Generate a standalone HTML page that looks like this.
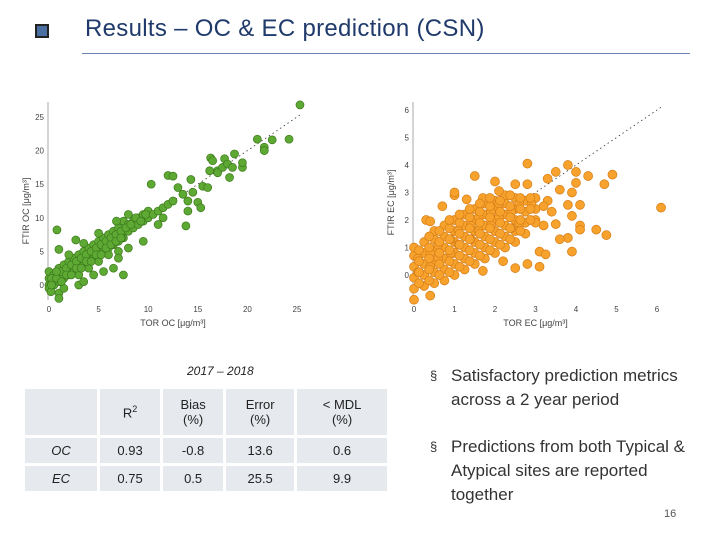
<!DOCTYPE html>
<html><head><meta charset="utf-8"><style>
body{margin:0;width:720px;height:540px;background:#fff;position:relative;overflow:hidden;font-family:"Liberation Sans",sans-serif}
.abs{position:absolute}
table{border-collapse:collapse;position:absolute;left:22px;top:386px;width:368px;font-family:"Liberation Sans",sans-serif;font-size:13px;color:#222}
td{background:#e6e9ee;border:3px solid #fff;text-align:center;padding:0}
.bul{position:absolute;left:430px;font-size:17px;color:#333;line-height:24px;width:275px}
.bul span.m{position:absolute;left:0;font-size:13px}
.bul div{margin-left:21px}
</style></head><body>
<div class="abs" style="left:35px;top:24px;width:10px;height:10px;background:#4a6fa0;border:2px solid #222"></div>
<div class="abs" style="left:85px;top:15px;font-size:24px;color:#1f3a6b;letter-spacing:0.3px">Results – OC &amp; EC prediction (CSN)</div>
<div class="abs" style="left:82px;top:53px;width:608px;height:1px;background:#6a86b0"></div>

<svg class="abs" style="left:0;top:0" width="720" height="340">
<g id="oc"></g>
<g id="ec"></g>
</svg>

<div class="abs" style="left:187px;top:364px;font-size:12px;font-style:italic;color:#222">2017 – 2018</div>
<table>
<tr style="height:49px"><td style="width:72px"></td><td>R<sup style="font-size:9px">2</sup></td><td>Bias<br>(%)</td><td>Error<br>(%)</td><td>&lt; MDL<br>(%)</td></tr>
<tr style="height:28px"><td><i>OC</i></td><td>0.93</td><td>-0.8</td><td>13.6</td><td>0.6</td></tr>
<tr style="height:28px"><td><i>EC</i></td><td>0.75</td><td>0.5</td><td>25.5</td><td>9.9</td></tr>
</table>

<div class="bul" style="top:364px"><span class="m">§</span><div>Satisfactory prediction metrics across a 2 year period</div></div>
<div class="bul" style="top:435px"><span class="m">§</span><div>Predictions from both Typical &amp; Atypical sites are reported together</div></div>
<div class="abs" style="left:664px;top:508px;font-size:11px;color:#555">16</div>

<script>
const ocX=[0,0,0,0,0.3,0.5,0.5,1,1,1,1.5,1.5,1.5,2,2,2,2.5,2.5,2.5,3,3,3,3,3.5,3.5,3.5,4,4,4,4,4.5,4.5,4.5,5,5,5,5,5.5,5.5,5.5,6,6,6,6,6.5,6.5,6.5,7,7,7,7,7.5,7.5,7.5,8,8,8,8.5,8.5,9,9,9.5,9.5,10,10,10.5,11,11.5,12,12.5,12,12.5,10.3,13,13.5,14,14,13.8,14.3,14.5,15,15.3,15.5,16,16.2,16.3,16.5,17,17,17.5,17.7,18,18.2,18.5,18.7,19.5,19.5,21,21.7,21.7,22.5,24.2,25.3,0.8,1,1,1,2.7,7.5,5,6.5,3.5,2,4.5,9.5,7,1.5,0.2,5.5,3,8,11,11.5,6.8,3.5,0.7,1.3,2.3,3.3,4.3,5.3,6.3,7.3,1.8,2.8,3.8,4.8,5.8,6.8,0.25,0.75,1.25,1.75,2.25,2.75,3.25,3.75,4.25,4.75,5.25,5.75,6.25,6.75,7.25,7.75,0.25,0.75,1.25,1.75,2.25,2.75,3.25,3.75,4.25,4.75,5.25,5.75,6.25,6.75,7.25,8.25,8.75,9.25,9.75];
const ocY=[0,1,2,-0.5,0.5,1.5,0,0.5,1.5,2.5,1,2,3,1.5,2.5,3.5,2,3,4,2.5,3.5,4.5,1.5,3,4,5,3.5,4.5,5.5,2.5,4,5,6,4.5,5.5,6.5,3.5,5,6,7,5.5,6.5,7.5,4.5,6,7,8,6.5,7.5,8.5,5,7,8,9.5,8,9,10.5,8.5,9.5,9,10,9.5,10.5,10,11,10.5,11,11.5,12,12.5,16.3,16.2,15,14.5,13.5,12.5,11,8.8,15.7,13.8,12.3,11.5,14.7,14.5,17,18.9,18.5,17,16.7,17.5,18.8,18,16,17.5,19.5,17.5,18.2,21.7,20.5,20,21.6,21.7,26.8,8.2,5.3,-1.2,-2,6.7,1.5,7.7,2.5,6.2,4.5,1.5,6.5,4,-0.5,-1,2,0,5.5,9,10,9.5,0.5,1,1,2,3,4,5,6,7,2.2,3.2,4.2,5.2,6.2,7.2,1,1,2,2.5,3,3.5,4,4.5,5,5.5,6,6.5,7,7.5,8,8.5,0,2,0.5,1.5,1.5,2.5,2.5,3.5,3.5,4.5,4.5,5.5,6,6.5,7,9,10,9.5,10.5];
const ocTicks=[0,5,10,15,20,25];
const ecX=[0,0,0,0,0,0.25,0.25,0.25,0.25,0.25,0.5,0.5,0.5,0.5,0.5,0.5,0.75,0.75,0.75,0.75,0.75,0.75,1,1,1,1,1,1,1.25,1.25,1.25,1.25,1.25,1.25,1.5,1.5,1.5,1.5,1.5,1.5,1.75,1.75,1.75,1.75,1.75,1.75,2,2,2,2,2,2,2.25,2.25,2.25,2.25,2.25,2.25,2.5,2.5,2.5,2.5,2.5,2.75,2.75,2.75,2.75,3,3,3,0.1,0.4,0.6,0.9,1.1,1.4,1.6,1.9,2.1,2.4,2.6,0.1,0.4,0.6,0.9,1.1,1.4,1.6,1.9,2.1,2.4,2.6,2.9,0,0.4,0.3,0.4,1,1,1.5,2,2.8,3.8,3.5,4,4.3,4.9,4.7,4,3.3,3.6,3.9,3.8,4.1,3.4,3.9,3.5,4.1,4.1,4.5,4.75,3.8,3.6,3.9,6.1,3.1,3.25,3.1,2.5,2.2,1.7,2.8,3,3.2,3.3,3.2,2.5,2.8,2.1,0.7,1.3,1.7,
0.125,0.125,0.125,0.125,0.375,0.375,0.375,0.375,0.375,0.625,0.625,0.625,0.625,0.625,0.875,0.875,0.875,0.875,0.875,0.875,1.125,1.125,1.125,1.125,1.125,1.125,1.375,1.375,1.375,1.375,1.375,1.375,1.625,1.625,1.625,1.625,1.625,1.625,1.875,1.875,1.875,1.875,1.875,1.875,2.125,2.125,2.125,2.125,2.125,2.375,2.375,2.375,2.375,2.375,2.625,2.625,2.625,2.625,2.875,2.875,2.875];
const ecY=[-0.5,-0.1,0.3,0.7,1.0,-0.4,0,0.4,0.8,1.2,-0.3,0.1,0.5,0.9,1.3,1.6,-0.2,0.2,0.6,1.0,1.4,1.8,0,0.4,0.8,1.2,1.6,2.0,0.2,0.6,1.0,1.4,1.8,2.2,0.4,0.8,1.2,1.6,2.0,2.4,0.6,1.0,1.4,1.8,2.2,2.6,0.8,1.2,1.6,2.0,2.4,2.7,1.0,1.4,1.8,2.2,2.6,2.9,1.2,1.6,2.0,2.4,2.8,1.5,1.9,2.3,2.7,2.0,2.4,2.8,0.1,0.3,0.6,0.8,1.1,1.3,1.6,1.8,2.1,2.3,2.6,0.6,0.8,1.1,1.3,1.6,1.8,2.1,2.3,2.6,1.7,1.9,2.6,-0.9,-0.75,2,1.95,2.9,3,3.6,3.4,4.05,4,3.75,3.75,3.6,3.65,3.3,3.35,3.5,3.1,3,2.55,2.55,2.3,2.15,1.85,1.8,1.65,1.65,1.45,1.35,1.3,0.85,2.45,0.85,0.75,0.3,0.25,0.5,0.15,0.4,1.9,1.8,2.7,2.5,3.3,3.3,3.05,2.5,2.75,2.8,
-0.3,0.1,0.5,0.9,-0.2,0.2,0.6,1.0,1.4,0,0.4,0.8,1.2,1.6,0.1,0.5,0.9,1.3,1.7,2.0,0.3,0.7,1.1,1.5,1.9,2.2,0.5,0.9,1.3,1.7,2.1,2.4,0.7,1.1,1.5,1.9,2.3,2.6,0.9,1.3,1.7,2.1,2.5,2.8,1.1,1.5,1.9,2.3,2.7,1.3,1.7,2.1,2.5,2.9,1.6,2.0,2.4,2.8,2.0,2.4,2.8];
const ecTicks=[0,1,2,3,4,5,6];
const NS='http://www.w3.org/2000/svg';
function mk(p,t,a){const e=document.createElementNS(NS,t);for(const k in a)e.setAttribute(k,a[k]);p.appendChild(e);return e;}
function chart(g,xs,ys,ticks,x0,x1px,y0px,y1px,vmax,fill,stroke,r,xl,yl){
  const sx=v=>x0+(x1px-x0)*v/vmax, sy=v=>y0px-(y0px-y1px)*v/vmax;
  const ax=mk(g,'line',{x1:x0-1,y1:102,x2:x0-1,y2:300,stroke:'#aaa','stroke-width':1});
  
  
  ticks.forEach(t=>{
    const a=mk(g,'text',{x:sx(t),y:312,'font-size':8,fill:'#444','text-anchor':'middle','font-family':'Liberation Sans, sans-serif'});a.textContent=t;
    
    
    const b=mk(g,'text',{x:x0-5,y:sy(t)+3,'font-size':8,fill:'#444','text-anchor':'end','font-family':'Liberation Sans, sans-serif'});b.textContent=t;
    
    
  });
  const vm=ticks[ticks.length-1]*1.02;
  const d=mk(g,'line',{x1:sx(0),y1:sy(0),x2:sx(vm),y2:sy(vm),stroke:'#333','stroke-width':0.8,'stroke-dasharray':'1.5,3'});
  
  
  xs.forEach((v,i)=>{
    const c=mk(g,'circle',{cx:sx(v),cy:sy(ys[i]),r:r,fill:fill,stroke:stroke,'stroke-width':0.7});
    
    
  });
  const t1=mk(g,'text',{x:(x0+x1px)/2,y:326,'font-size':9,fill:'#444','text-anchor':'middle','font-family':'Liberation Sans, sans-serif'});t1.textContent=xl;
  
  
  const t2=mk(g,'text',{x:0,y:0,'font-size':9,fill:'#444','text-anchor':'middle','font-family':'Liberation Sans, sans-serif',transform:`translate(${x0-20},${(y0px+y1px)/2+10}) rotate(-90)`});t2.textContent=yl;
  
  
}
chart(document.getElementById('oc'),ocX,ocY,ocTicks,49,297,285,117,25,'#5ea934','#3c7a1c',4,'TOR OC [μg/m³]','FTIR OC [μg/m³]');
chart(document.getElementById('ec'),ecX,ecY,ecTicks,414,657,275,110,6,'#f7a22c','#d67e18',4.5,'TOR EC [μg/m³]','FTIR EC [μg/m³]');
</script>
</body></html>
